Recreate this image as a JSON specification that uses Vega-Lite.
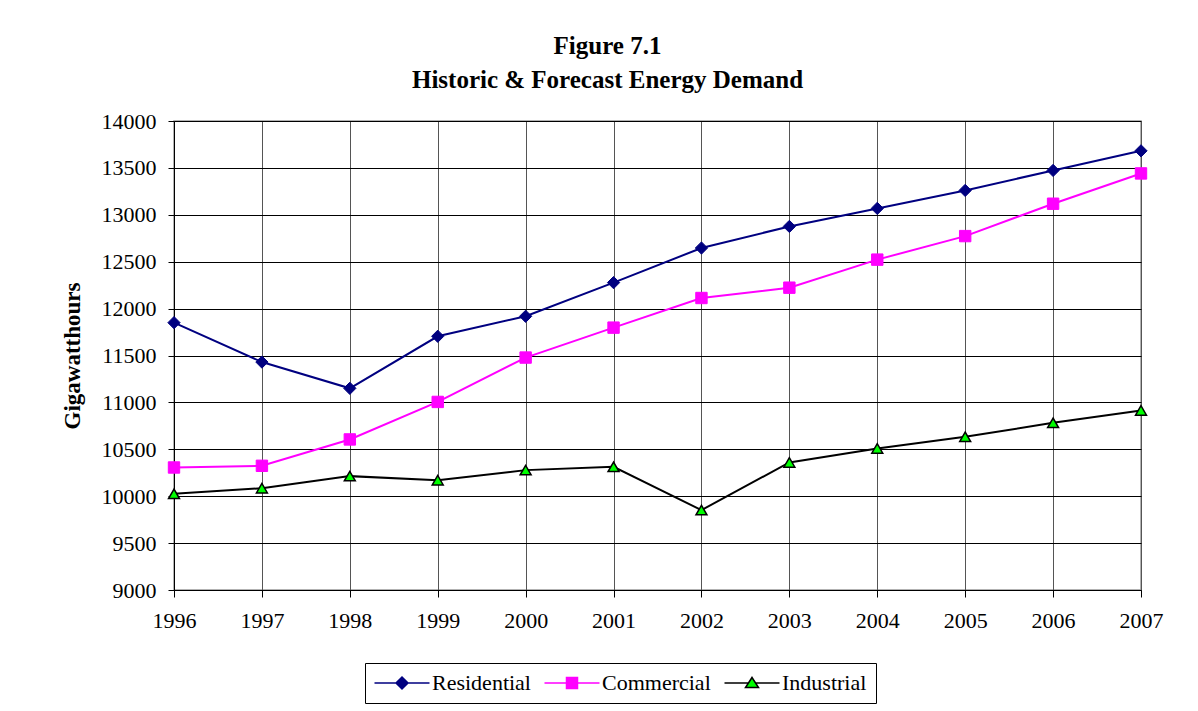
{
  "$schema": "https://vega.github.io/schema/vega-lite/v6.json",
  "autosize": {"type": "none"},
  "padding": {"left": 174, "top": 121, "right": 57, "bottom": 121},
  "width": 967,
  "height": 469,
  "background": "white",
  "title": {
    "text": ["Figure 7.1", "Historic & Forecast Energy Demand"],
    "font": "Liberation Serif",
    "fontSize": 25,
    "fontWeight": "bold",
    "color": "black",
    "anchor": "middle",
    "dx": -50,
    "lineHeight": 34,
    "offset": 17
  },
  "config": {
    "view": {"stroke": "#999999", "strokeWidth": 1.5},
    "axis": {
      "labelFont": "Liberation Serif",
      "titleFont": "Liberation Serif",
      "labelColor": "black",
      "titleColor": "black",
      "domainColor": "black",
      "tickColor": "black",
      "labelFontSize": 22
    }
  },
  "data": {
    "values": [
      {"year": 1996, "series": "Residential", "value": 11850},
      {"year": 1997, "series": "Residential", "value": 11430},
      {"year": 1998, "series": "Residential", "value": 11150},
      {"year": 1999, "series": "Residential", "value": 11705},
      {"year": 2000, "series": "Residential", "value": 11918},
      {"year": 2001, "series": "Residential", "value": 12277},
      {"year": 2002, "series": "Residential", "value": 12646},
      {"year": 2003, "series": "Residential", "value": 12876},
      {"year": 2004, "series": "Residential", "value": 13068},
      {"year": 2005, "series": "Residential", "value": 13260},
      {"year": 2006, "series": "Residential", "value": 13473},
      {"year": 2007, "series": "Residential", "value": 13682},
      {"year": 1996, "series": "Commercial", "value": 10306},
      {"year": 1997, "series": "Commercial", "value": 10324},
      {"year": 1998, "series": "Commercial", "value": 10605},
      {"year": 1999, "series": "Commercial", "value": 11005},
      {"year": 2000, "series": "Commercial", "value": 11478},
      {"year": 2001, "series": "Commercial", "value": 11797},
      {"year": 2002, "series": "Commercial", "value": 12113},
      {"year": 2003, "series": "Commercial", "value": 12223},
      {"year": 2004, "series": "Commercial", "value": 12522},
      {"year": 2005, "series": "Commercial", "value": 12773},
      {"year": 2006, "series": "Commercial", "value": 13118},
      {"year": 2007, "series": "Commercial", "value": 13441},
      {"year": 1996, "series": "Industrial", "value": 10025},
      {"year": 1997, "series": "Industrial", "value": 10085},
      {"year": 1998, "series": "Industrial", "value": 10214},
      {"year": 1999, "series": "Industrial", "value": 10171},
      {"year": 2000, "series": "Industrial", "value": 10278},
      {"year": 2001, "series": "Industrial", "value": 10313},
      {"year": 2002, "series": "Industrial", "value": 9852},
      {"year": 2003, "series": "Industrial", "value": 10360},
      {"year": 2004, "series": "Industrial", "value": 10509},
      {"year": 2005, "series": "Industrial", "value": 10633},
      {"year": 2006, "series": "Industrial", "value": 10782},
      {"year": 2007, "series": "Industrial", "value": 10914}
    ]
  },
  "encoding": {
    "x": {
      "field": "year",
      "type": "quantitative",
      "scale": {"domain": [1996, 2007], "nice": false, "zero": false},
      "axis": {
        "title": null,
        "values": [1996, 1997, 1998, 1999, 2000, 2001, 2002, 2003, 2004, 2005, 2006, 2007],
        "format": "d",
        "grid": true,
        "gridColor": "#555555",
        "gridOpacity": 1,
        "tickSize": 7,
        "labelPadding": 13,
        "labelOverlap": false,
        "labelFlush": false
      }
    },
    "y": {
      "field": "value",
      "type": "quantitative",
      "scale": {"domain": [9000, 14000], "nice": false, "zero": false},
      "axis": {
        "title": "Gigawatthours",
        "titleFontSize": 23,
        "titleFontWeight": "bold",
        "titlePadding": 17,
        "values": [9000, 9500, 10000, 10500, 11000, 11500, 12000, 12500, 13000, 13500, 14000],
        "format": "d",
        "grid": true,
        "gridColor": "black",
        "gridOpacity": 1,
        "tickSize": 6,
        "labelPadding": 12
      }
    }
  },
  "layer": [
    {
      "transform": [{"filter": "datum.series === 'Residential'"}],
      "mark": {"type": "line", "strokeWidth": 2, "color": "#000080"}
    },
    {
      "transform": [{"filter": "datum.series === 'Commercial'"}],
      "mark": {"type": "line", "strokeWidth": 2, "color": "#FF00FF"}
    },
    {
      "transform": [{"filter": "datum.series === 'Industrial'"}],
      "mark": {"type": "line", "strokeWidth": 2, "color": "#000000"}
    },
    {
      "transform": [{"filter": "datum.series === 'Residential'"}],
      "mark": {"type": "point", "shape": "diamond", "filled": true, "fill": "#000080", "stroke": "#000080", "strokeWidth": 1, "size": 150, "opacity": 1}
    },
    {
      "transform": [{"filter": "datum.series === 'Commercial'"}],
      "mark": {"type": "point", "shape": "square", "filled": true, "fill": "#FF00FF", "stroke": "#FF00FF", "strokeWidth": 1, "size": 130, "opacity": 1}
    },
    {
      "transform": [{"filter": "datum.series === 'Industrial'"}],
      "mark": {"type": "point", "shape": "triangle-up", "filled": true, "fill": "#00FF00", "stroke": "#000000", "strokeWidth": 1.5, "size": 120, "opacity": 1}
    },
    {
      "mark": {"type": "point", "filled": true, "opacity": 0},
      "encoding": {
        "shape": {
          "field": "series",
          "type": "nominal",
          "scale": {
            "domain": ["Residential", "Commercial", "Industrial"],
            "range": [
              "M-2.1,0H8.9M3.4,-1.2L4.6,0L3.4,1.2L2.2,0Z",
              "M-2.1,0H8.9M2.3,-1.1H4.5V1.1H2.3Z",
              "M-2.1,0H2.7M4.1,0H8.9M3.4,-1.1L4.7,0.9H2.1Z"
            ]
          },
          "legend": {
            "title": null,
            "orient": "none",
            "legendX": 191,
            "legendY": 542,
            "direction": "horizontal",
            "columns": 3,
            "strokeColor": "black",
            "padding": 9,
            "symbolSize": 100,
            "symbolStrokeWidth": 1.5,
            "symbolOpacity": 1,
            "labelFont": "Liberation Serif",
            "labelFontSize": 22,
            "labelColor": "black",
            "labelOffset": 36,
            "columnPadding": 10
          }
        },
        "fill": {
          "field": "series",
          "type": "nominal",
          "scale": {"domain": ["Residential", "Commercial", "Industrial"], "range": ["#000080", "#FF00FF", "#00FF00"]}
        },
        "stroke": {
          "field": "series",
          "type": "nominal",
          "scale": {"domain": ["Residential", "Commercial", "Industrial"], "range": ["#000080", "#FF00FF", "#000000"]}
        }
      }
    }
  ]
}
